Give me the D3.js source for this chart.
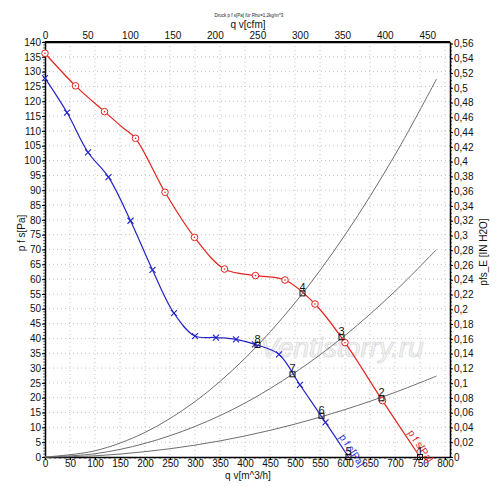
<!DOCTYPE html>
<html>
<head>
<meta charset="utf-8">
<script src="https://cdn.jsdelivr.net/npm/d3@7"></script>
<style>
  body { margin: 0; background: #fff; }
  svg { font-family: "Liberation Sans", Arial, sans-serif; }
</style>
</head>
<body>
<svg id="chart" width="500" height="487"></svg>
<script>
// fan curve, red (circles)
var redQ = [0, 61, 119, 157, 181, 240, 299, 359, 421, 480, 540, 600, 675, 750];
var redP = [136.2, 125.2, 116.5, 110.9, 107.5, 89.3, 74.1, 63.4, 61.2, 59.7, 51.6, 38.6, 19.0, 0];
var redMarkQ = [0, 61, 119, 181, 240, 299, 359, 421, 480, 540, 600, 675];
var redMarkP = [136.2, 125.2, 116.5, 107.5, 89.3, 74.1, 63.4, 61.2, 59.7, 51.6, 38.6, 19.0];

// fan curve, blue (crosses)
var blueQ = [0, 44, 86, 127, 171, 215, 258, 300, 342, 382, 420, 468, 510, 561, 607];
var blueP = [127.8, 116.2, 102.8, 94.4, 79.7, 63.1, 48.5, 40.8, 40.3, 39.7, 38.0, 34.6, 24.3, 11.7, 0];

// system curves (gray)
var sysQ = [0, 100, 200, 300, 400, 500, 600, 700, 783];
var sysP1 = [0, 2.1, 8.3, 18.7, 33.3, 52.0, 74.9, 101.9, 127.5];
var sysP2 = [0, 1.1, 4.6, 10.3, 18.2, 28.5, 41.0, 55.9, 70.0];
var sysP3 = [0, 0.4, 1.8, 4.0, 7.1, 11.1, 16.0, 21.8, 27.3];

// operating points
var opLabels = ["1", "2", "3", "4", "5", "6", "7", "8"];
var opQ = [750, 673, 593, 515, 607, 553, 495, 425];
var opP = [0, 19.8, 40.4, 55.2, 0, 13.9, 27.9, 37.8];

var xTicks = d3.range(0, 801, 50);
var yTicks = d3.range(0, 141, 5);
var cfmTicks = d3.range(0, 451, 50);
var inTicks = d3.range(0, 0.561, 0.02);

var svg = d3.select("#chart");
var plotL = 45, plotR = 450, plotT = 42, plotB = 457;

var x = d3.scaleLinear().domain([0, 810]).range([plotL, plotR]);
var y = d3.scaleLinear().domain([0, 140]).range([plotB, plotT]);
var xCfm = d3.scaleLinear().domain([0, 810 / 1.699011]).range([plotL, plotR]);
var yIn = d3.scaleLinear().domain([0, 140 / 249.08891]).range([plotB, plotT]);

// dotted grid
svg.append("g").selectAll("line").data(xTicks.slice(1)).join("line")
    .attr("x1", d => x(d)).attr("x2", d => x(d))
    .attr("y1", plotT).attr("y2", plotB)
    .attr("stroke", "#c4c4c4").attr("stroke-dasharray", "1,3");
svg.append("g").selectAll("line").data(yTicks.slice(1)).join("line")
    .attr("x1", plotL).attr("x2", plotR)
    .attr("y1", d => y(d)).attr("y2", d => y(d))
    .attr("stroke", "#c4c4c4").attr("stroke-dasharray", "1,3");

// watermark
svg.append("text")
    .attr("x", 342).attr("y", 357)
    .attr("text-anchor", "middle")
    .attr("font-size", 28).attr("font-style", "italic")
    .attr("fill", "#f4f4f4").attr("stroke", "#d6d6d6").attr("stroke-width", 0.7)
    .text("Ventistorry.ru");

// axes
function styleAxis(g) {
    g.selectAll(".domain").attr("stroke", "#000").attr("stroke-width", 1.5);
    g.selectAll(".tick line").attr("stroke", "#000");
    g.selectAll(".tick text").attr("font-size", 10).attr("fill", "#111")
        .attr("font-family", "'Liberation Sans', Arial, sans-serif");
}

svg.append("g").attr("transform", "translate(0," + plotB + ")")
    .call(d3.axisBottom(x).tickValues(xTicks).tickSize(3).tickPadding(0).tickSizeOuter(0))
    .call(styleAxis);
svg.append("g").attr("transform", "translate(" + plotL + ",0)")
    .call(d3.axisLeft(y).tickValues(yTicks).tickSize(3).tickPadding(1).tickSizeOuter(0))
    .call(styleAxis);
svg.append("g").attr("transform", "translate(0," + plotT + ")")
    .call(d3.axisTop(xCfm).tickValues(cfmTicks).tickSize(0).tickPadding(3).tickSizeOuter(0))
    .call(styleAxis);
var fmtIn = function(d) { return d3.format(".2~f")(d).replace(".", ","); };
svg.append("g").attr("transform", "translate(" + plotR + ",0)")
    .call(d3.axisRight(yIn).tickValues(inTicks).tickFormat(fmtIn).tickSize(3).tickPadding(1).tickSizeOuter(0))
    .call(styleAxis);

// minor ticks
svg.append("g").selectAll("line").data(d3.range(0, 141, 1)).join("line")
    .attr("x1", plotL - 2).attr("x2", plotL)
    .attr("y1", d => y(d)).attr("y2", d => y(d)).attr("stroke", "#000").attr("stroke-width", 0.6);
svg.append("g").selectAll("line").data(d3.range(0, 801, 10)).join("line")
    .attr("y1", plotB).attr("y2", plotB + 2)
    .attr("x1", d => x(d)).attr("x2", d => x(d)).attr("stroke", "#000").attr("stroke-width", 0.6);
svg.append("g").selectAll("line").data(d3.range(0, 0.561, 0.005)).join("line")
    .attr("x1", plotR).attr("x2", plotR + 2)
    .attr("y1", d => yIn(d)).attr("y2", d => yIn(d)).attr("stroke", "#000").attr("stroke-width", 0.6);

// frame top
svg.append("line").attr("x1", plotL).attr("x2", plotR).attr("y1", plotT).attr("y2", plotT)
    .attr("stroke", "#000").attr("stroke-width", 2);

// titles
svg.append("text").attr("x", 249).attr("y", 17).attr("text-anchor", "middle")
    .attr("font-size", 4.5).attr("fill", "#222").text("Druck p f s[Pa] für Rho=1,2kg/m^3");
svg.append("text").attr("x", 248).attr("y", 28).attr("text-anchor", "middle")
    .attr("font-size", 10).attr("fill", "#111").text("q v[cfm]");
svg.append("text").attr("x", 248).attr("y", 479).attr("text-anchor", "middle")
    .attr("font-size", 10).attr("fill", "#111").text("q v[m^3/h]");
svg.append("text").attr("transform", "translate(25,233) rotate(-90)").attr("text-anchor", "middle")
    .attr("font-size", 10).attr("fill", "#111").text("p f s[Pa]");
svg.append("text").attr("transform", "translate(487,252) rotate(-90)").attr("text-anchor", "middle")
    .attr("font-size", 10).attr("fill", "#111").text("pfs_E [IN H2O]");

// system curves
var sysLine = d3.line().x(d => x(d[0])).y(d => y(d[1])).curve(d3.curveCatmullRom);
[sysP1, sysP2, sysP3].forEach(function(ps) {
    svg.append("path")
        .attr("d", sysLine(sysQ.map((q, i) => [q, ps[i]])))
        .attr("fill", "none").attr("stroke", "#6e6e6e").attr("stroke-width", 1);
});

// fan curves
var fanLine = d3.line().x(d => x(d[0])).y(d => y(d[1])).curve(d3.curveCatmullRom.alpha(0.5));
svg.append("path").attr("d", fanLine(redQ.map((q, i) => [q, redP[i]])))
    .attr("fill", "none").attr("stroke", "#e3231f").attr("stroke-width", 1.2);
svg.append("path").attr("d", fanLine(blueQ.map((q, i) => [q, blueP[i]])))
    .attr("fill", "none").attr("stroke", "#2424c8").attr("stroke-width", 1.2);

// red markers
var rm = svg.append("g").selectAll("g").data(redMarkQ).join("g")
    .attr("transform", (d, i) => "translate(" + x(d) + "," + y(redMarkP[i]) + ")");
rm.append("circle").attr("r", 3.3).attr("fill", "#fff").attr("stroke", "#e3231f").attr("stroke-width", 1);
rm.append("circle").attr("r", 0.8).attr("fill", "#e3231f");

// blue markers
var bm = svg.append("g").selectAll("g").data(blueQ.slice(0, -1)).join("g")
    .attr("transform", (d, i) => "translate(" + x(d) + "," + y(blueP[i]) + ")");
bm.append("path").attr("d", "M-3,-3L3,3M-3,3L3,-3").attr("stroke", "#2424c8").attr("stroke-width", 1.1);

// curve labels along the last segment
function curveLabel(qs, ps, q0, p0, color) {
    var n = qs.length;
    var ang = Math.atan2(y(ps[n - 1]) - y(ps[n - 2]), x(qs[n - 1]) - x(qs[n - 2])) * 180 / Math.PI;
    svg.append("text")
        .attr("transform", "translate(" + x(q0) + "," + y(p0) + ") rotate(" + ang + ")")
        .attr("dy", -3).attr("font-size", 10).attr("fill", color)
        .text("p f s[Pa]");
}
curveLabel(blueQ, blueP, 583, 6.2, "#2424c8");
curveLabel(redQ, redP, 720, 7.6, "#e3231f");

// operating points
var op = svg.append("g").selectAll("g").data(opQ).join("g")
    .attr("transform", (d, i) => "translate(" + x(d) + "," + y(opP[i]) + ")");
op.append("rect").attr("x", -2.5).attr("y", -2.5).attr("width", 5).attr("height", 5)
    .attr("fill", "none").attr("stroke", "#111").attr("stroke-width", 1);
op.append("text").attr("x", 0).attr("y", -2).attr("text-anchor", "middle")
    .attr("font-size", 11).attr("fill", "#111").text((d, i) => opLabels[i]);
</script>
</body>
</html>
